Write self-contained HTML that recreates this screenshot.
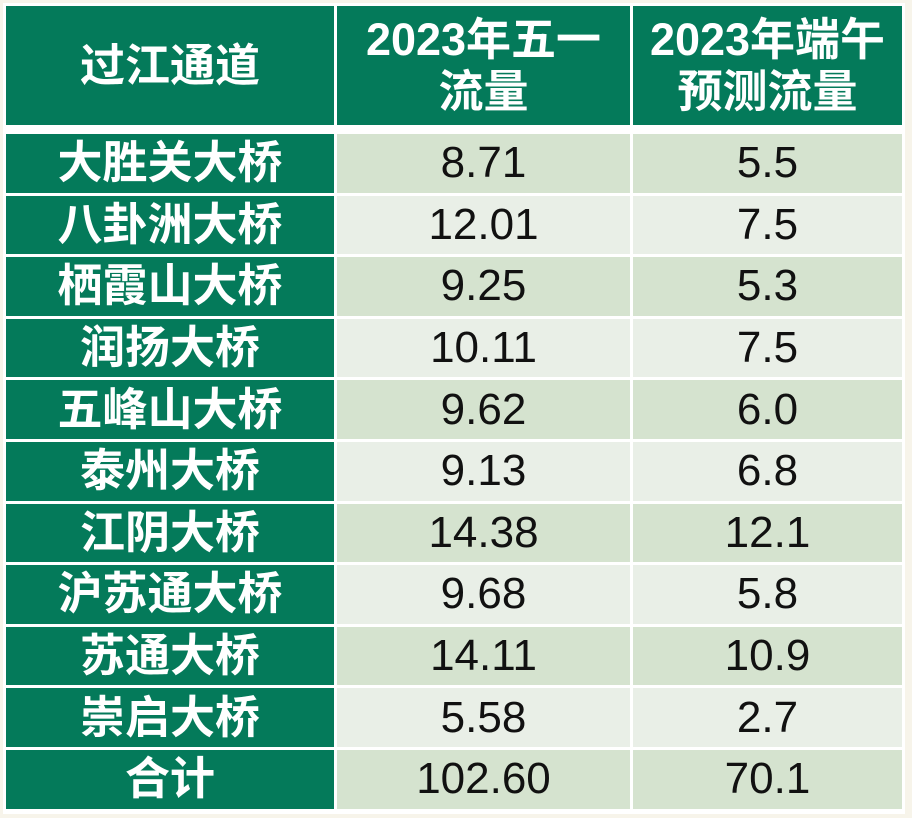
<!DOCTYPE html>
<html><head><meta charset="utf-8"><style>
body{margin:0;width:912px;height:818px;background:#f7f4ea;overflow:hidden;font-family:"Liberation Sans","Noto Sans CJK SC",sans-serif}
#t{position:absolute;left:3px;top:3px;width:902px;height:811px;background:#fff}
.c{position:absolute;display:flex;align-items:center;justify-content:center;text-align:center;box-sizing:border-box;white-space:nowrap}
.g{background:#047a5a;color:#fff;font-weight:bold;font-size:45px;line-height:52px}
.n{color:#111;font-size:44px}
</style></head><body>
<div id="t"></div>
<script>
const names=["大胜关大桥","八卦洲大桥","栖霞山大桥","润扬大桥","五峰山大桥","泰州大桥","江阴大桥","沪苏通大桥","苏通大桥","崇启大桥","合计"];
const mayDay=["8.71","12.01","9.25","10.11","9.62","9.13","14.38","9.68","14.11","5.58","102.60"];
const dragon=["5.5","7.5","5.3","7.5","6.0","6.8","12.1","5.8","10.9","2.7","70.1"];
const t=document.getElementById('t');
const cols=[[3,331],[334,627],[630,899]];
function cell(x,y,w,h,txt,cls,name){const d=document.createElement('div');d.className='c '+cls;
d.style.left=x+'px';d.style.top=y+'px';d.style.width=w+'px';d.style.height=h+'px';d.innerHTML=txt;


t.appendChild(d);}
const hdr=["过江通道","2023年五一<br>流量","2023年端午<br>预测流量"];
hdr.forEach((h,i)=>cell(cols[i][0],3,cols[i][1]-cols[i][0],119,h,'g','header-cell'));
const top0=131,pitch=61.6,rh=58.6;
names.forEach((n,r)=>{const y=top0+r*pitch;const bg=r%2?'#e9efe7':'#d5e3cf';
cell(cols[0][0],y,cols[0][1]-cols[0][0],rh,n,'g','row-label');
cell(cols[1][0],y,cols[1][1]-cols[1][0],rh,mayDay[r],'n','mayday-value');
cell(cols[2][0],y,cols[2][1]-cols[2][0],rh,dragon[r],'n','dragon-boat-value');
t.lastChild.style.background=bg;t.lastChild.previousSibling.style.background=bg;});
</script>
</body></html>
